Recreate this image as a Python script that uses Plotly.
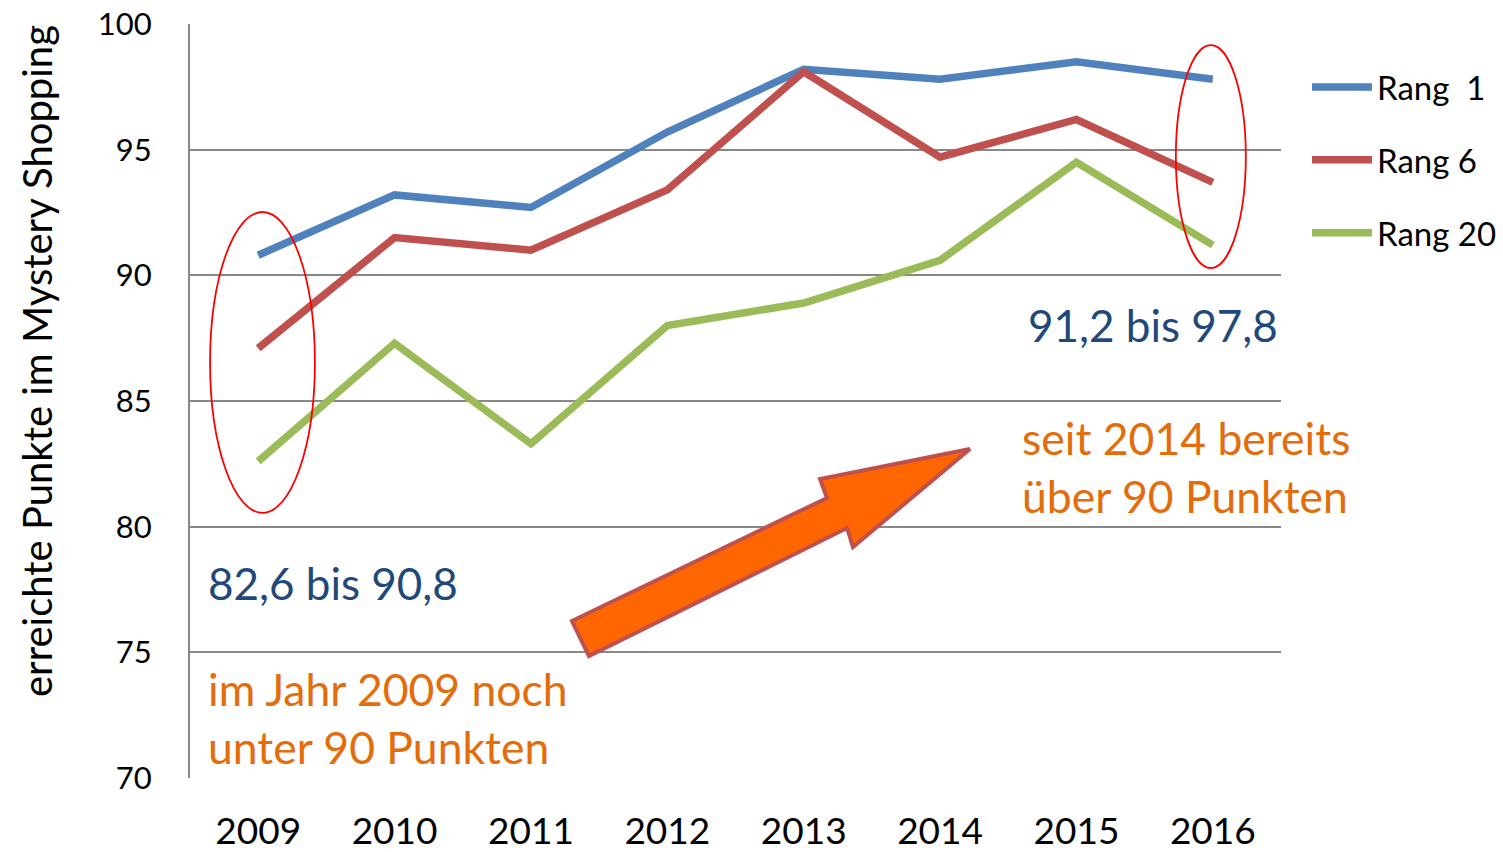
import plotly.graph_objects as go

years = ["2009", "2010", "2011", "2012", "2013", "2014", "2015", "2016"]
rang1 = [90.8, 93.2, 92.7, 95.7, 98.2, 97.8, 98.5, 97.8]
rang6 = [87.1, 91.5, 91.0, 93.4, 98.1, 94.7, 96.2, 93.7]
rang20 = [82.6, 87.3, 83.3, 88.0, 88.9, 90.6, 94.5, 91.2]
series_names = ["Rang\u00a0\u00a01", "Rang 6", "Rang 20"]
series_colors = ["#4F81BD", "#C0504D", "#9BBB59"]
y_ticks = [70, 75, 80, 85, 90, 95, 100]

FONT = "Lato, Open Sans, sans-serif"
W, H = 1503, 852
ML, MR, MT, MB = 190, 222, 24, 74
PW, PH = W - ML - MR, H - MT - MB


def px(x, y):
    return (x - ML) / PW, (H - MB - y) / PH


fig = go.Figure()
for name, vals, col in zip(series_names, [rang1, rang6, rang20], series_colors):
    fig.add_trace(go.Scatter(x=years, y=vals, mode="lines", name=name,
                             legendgroup=name,
                             line=dict(color=col, width=7.5)))

# ellipses (data coordinates; category index for x)
fig.add_shape(type="circle", xref="x", yref="y", x0=-0.353, x1=0.416, y0=80.55, y1=92.52,
              line=dict(color="#FF0000", width=1.8))
fig.add_shape(type="circle", xref="x", yref="y", x0=6.729, x1=7.242, y0=90.29, y1=99.16,
              line=dict(color="#FF0000", width=1.8))

# arrow (paper coords)
pts = [(572, 621), (827, 498), (820, 479), (970, 449), (853, 547), (847, 528), (589, 656)]
path = ""
for i, (x, y) in enumerate(pts):
    a, b = px(x, y)
    path += ("M" if i == 0 else "L") + f"{a:.4f},{b:.4f} "
path += "Z"
fig.add_shape(type="path", xref="paper", yref="paper", path=path,
              fillcolor="#FF6600", line=dict(color="#C0504D", width=4), layer="above")


def ann(text, x, y, color, xanchor, size=44, angle=0):
    a, b = px(x, y)
    fig.add_annotation(text=text, x=a, y=b, xref="paper", yref="paper", showarrow=False,
                       xanchor=xanchor, yanchor="middle", align="left", textangle=angle,
                       font=dict(family=FONT, size=size, color=color))


ann("91,2 bis 97,8", 1280, 325, "#1F497D", "right")
ann("82,6 bis 90,8", 206, 583, "#1F497D", "left")
ann("seit 2014 bereits<br>über 90 Punkten", 1020, 466, "#E46C0A", "left", size=44.5)
ann("im Jahr 2009 noch<br>unter 90 Punkten", 206, 717, "#E46C0A", "left", size=44.5)
# y-axis title
ann("erreichte Punkte im Mystery Shopping", 37, 361, "#000000", "center", size=40, angle=-90)

fig.update_layout(
    width=W, height=H,
    margin=dict(l=ML, r=MR, t=MT, b=MB, autoexpand=False),
    paper_bgcolor="white", plot_bgcolor="white",
    font=dict(family=FONT, color="#000000"),
    showlegend=True,
    legend=dict(x=1307 / W, y=1 - 59 / H, xref="container", yref="container",
                xanchor="left", yanchor="top",
                font=dict(family=FONT, size=33, color="#000000"),
                tracegroupgap=27, bgcolor="rgba(0,0,0,0)", itemwidth=60),
    xaxis=dict(type="category", range=[-0.5, 7.5], showgrid=False, showline=False,
               zeroline=False, ticks="", tickfont=dict(family=FONT, size=37),
               ticklabelstandoff=28, automargin=False),
    yaxis=dict(range=[70, 100], tickvals=y_ticks, showgrid=True, gridcolor="#888888",
               gridwidth=2, showline=True, linecolor="#888888", linewidth=2,
               zeroline=False, ticks="", tickfont=dict(family=FONT, size=31),
               ticklabelstandoff=30, automargin=False),
)

fig.write_html("out.html", post_script="document.body.style.margin='0px';",
               config={"displayModeBar": False})
